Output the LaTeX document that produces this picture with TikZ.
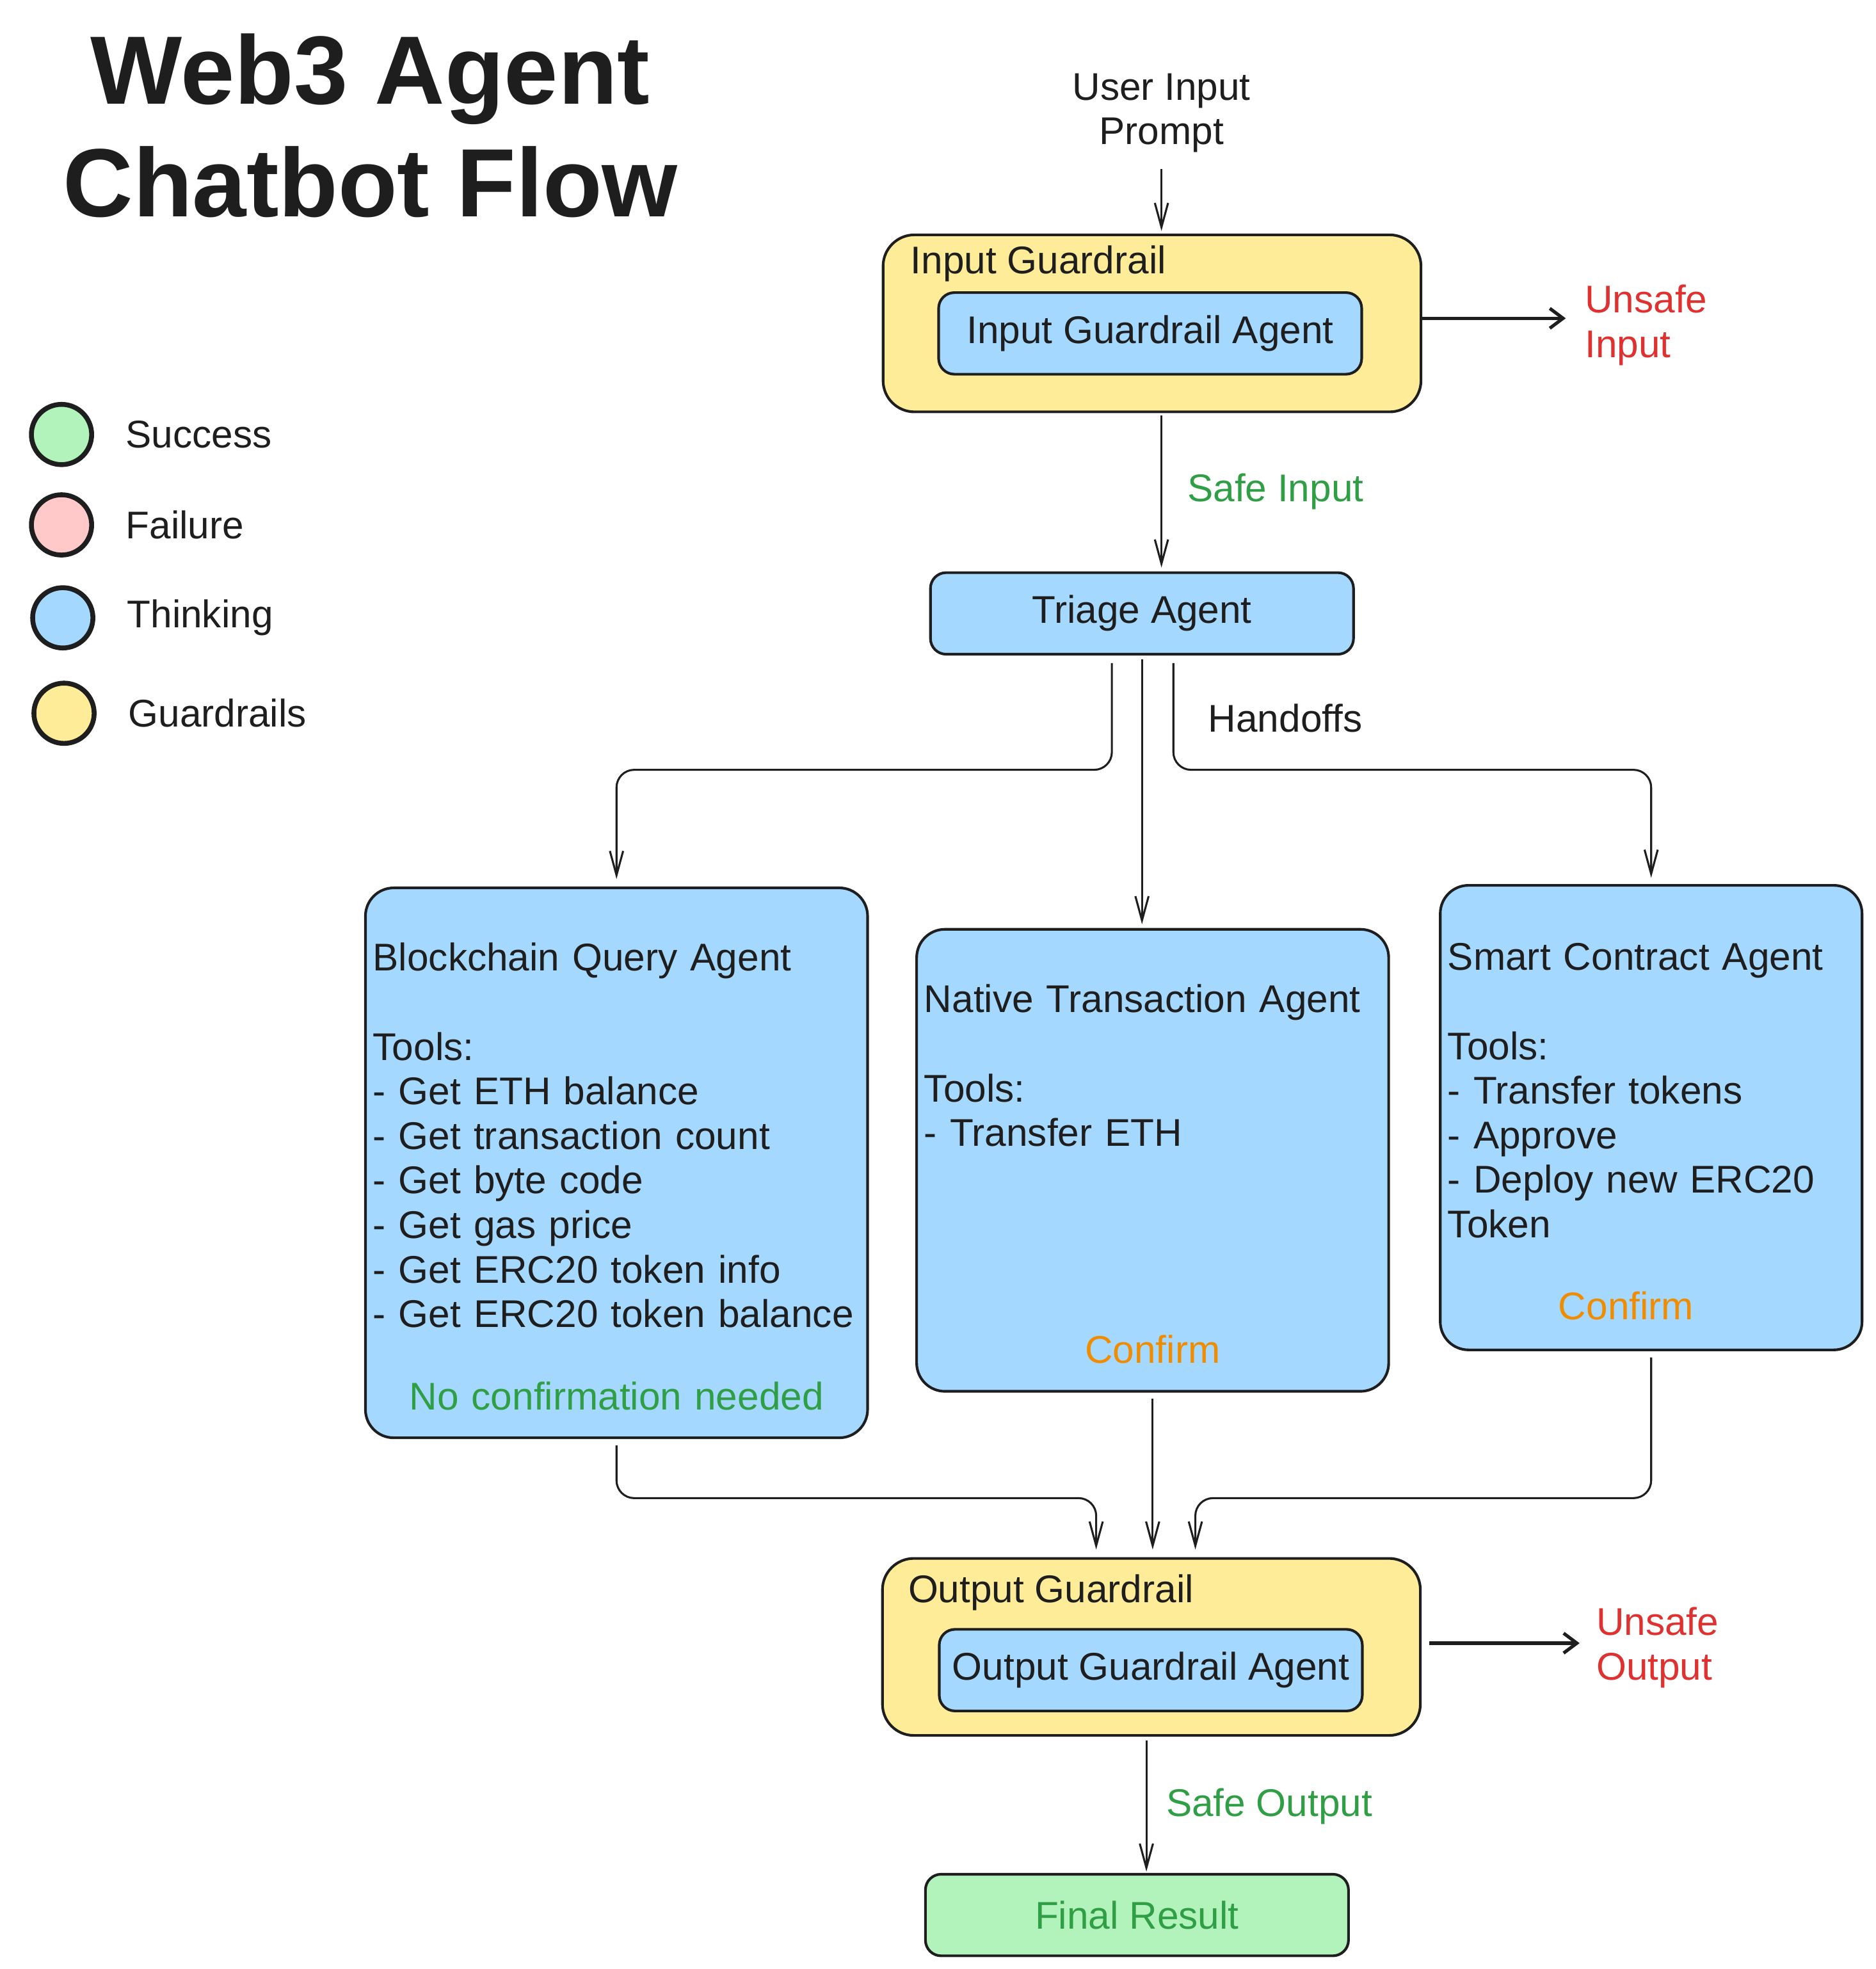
\documentclass[tikz,border=0pt]{standalone}
\usepackage{fontspec}
\setmainfont{Liberation Sans}
\usetikzlibrary{positioning,arrows.meta}

\definecolor{inkline}{HTML}{1E1E1E}
\definecolor{guardfill}{HTML}{FFEC99}
\definecolor{thinkfill}{HTML}{A5D8FF}
\definecolor{okfill}{HTML}{B2F2BB}
\definecolor{failfill}{HTML}{FFC9C9}
\definecolor{oktext}{HTML}{2F9E44}
\definecolor{badtext}{HTML}{E03131}
\definecolor{asktext}{HTML}{F08C00}

\tikzset{
  txt/.style={font=\fontsize{17.5}{20.2}\selectfont, text=inkline},
  guardbox/.style={draw=inkline, line width=1.2pt, fill=guardfill, rounded corners=0.5cm,
    minimum width=8.57cm, minimum height=2.82cm},
  agentbox/.style={txt, draw=inkline, line width=1.2pt, fill=thinkfill, rounded corners=0.25cm,
    minimum width=6.74cm, minimum height=1.3cm},
  toolbox/.style={txt, draw=inkline, line width=1.2pt, fill=thinkfill, rounded corners=0.45cm,
    align=left, inner xsep=0.12cm, inner ysep=0pt, text height=0.88cm},
  legdot/.style={circle, draw=inkline, line width=2.2pt, minimum size=0.96cm, inner sep=0pt},
  flow/.style={draw=inkline, line width=0.9pt, rounded corners=8pt,
    -{Straight Barb[length=11pt,width=6pt]}},
  reject/.style={draw=inkline, line width=1.5pt, -{Straight Barb[length=6pt,width=9pt]}},
}

\begin{document}
\begin{tikzpicture}[x=0.02cm, y=-0.02cm]
  \useasboundingbox (0,0) rectangle (1494,1568);

  % title
  \node[font=\fontsize{44}{51}\selectfont\bfseries, text=inkline, align=center] (title)
    at (295,100) {Web3 Agent\\Chatbot Flow};

  % legend
  \node[legdot, fill=okfill] (okdot) at (49,346) {};
  \node[legdot, fill=failfill] (faildot) at (49,418) {};
  \node[legdot, fill=thinkfill] (thinkdot) at (50,492) {};
  \node[legdot, fill=guardfill] (guarddot) at (51,568) {};
  \node[txt, inner sep=0pt, right=0.5cm of okdot] (oklabel) {Success};
  \node[txt, inner sep=0pt, right=0.5cm of faildot] (faillabel) {Failure};
  \node[txt, inner sep=0pt, right=0.5cm of thinkdot] (thinklabel) {Thinking};
  \node[txt, inner sep=0pt, right=0.5cm of guarddot] (guardlabel) {Guardrails};

  % input side
  \node[txt, align=center] (prompt) at (925,90) {User Input\\Prompt};
  \node[guardbox] (guardin) at (917.5,257.5) {};
  \node[txt, anchor=west, inner sep=0pt] (guardintitle) at (725,210) {Input Guardrail};
  \node[agentbox] (guardinagent) at (916,265.5) {Input Guardrail Agent};
  \node[txt, text=badtext, align=left, anchor=west, inner sep=0pt] (badin) at (1262,259) {Unsafe\\Input};

  \node[agentbox] (triage) at (909.5,488.5) {Triage Agent};
  \node[txt, anchor=west, inner sep=0pt] (handoffs) at (962,572) {Handoffs};

  % agents
  \node[toolbox, text width=7.76cm, minimum height=8.76cm] (query) at (491,926) {%
    Blockchain Query Agent\\[20.2pt]
    Tools:\\
    - Get ETH balance\\
    - Get transaction count\\
    - Get byte code\\
    - Get gas price\\
    - Get ERC20 token info\\
    - Get ERC20 token balance\\[17pt]
    \makebox[\linewidth]{\color{oktext}No confirmation needed}};
  \node[toolbox, text width=7.28cm, minimum height=7.36cm] (native) at (918,924) {%
    Native Transaction Agent\\[20.2pt]
    Tools:\\
    - Transfer ETH\\[78pt]
    \makebox[\linewidth]{\color{asktext}Confirm}};
  \node[toolbox, text width=6.48cm, minimum height=7.4cm] (contract) at (1315,890) {%
    Smart Contract Agent\\[20.2pt]
    Tools:\\
    - Transfer tokens\\
    - Approve\\
    - Deploy new ERC20\\
    Token\\[17pt]
    \makebox[\linewidth]{\hspace*{-0.8cm}\color{asktext}Confirm}};

  % output side
  \node[guardbox] (guardout) at (917,1311.5) {};
  \node[txt, anchor=west, inner sep=0pt] (guardouttitle) at (723,1268) {Output Guardrail};
  \node[agentbox] (guardoutagent) at (916.5,1330) {Output Guardrail Agent};
  \node[txt, text=badtext, align=left, anchor=west, inner sep=0pt] (badout) at (1271,1312) {Unsafe\\Output};
  \node[agentbox, fill=okfill, text=oktext] (final) at (905.5,1525) {Final Result};

  % connectors
  \draw[flow] ([yshift=-0.14cm]prompt.south) -- ([yshift=0.04cm]prompt.south |- guardin.north);
  \draw[reject] ([yshift=0.08cm]guardin.east) -- ([xshift=-0.3cm,yshift=0.08cm]guardin.east -| badin.west);
  \draw[flow] ([xshift=0.15cm,yshift=-0.04cm]guardin.south)
    -- node[midway, right=0.4cm, txt, text=oktext, inner sep=0pt] (safein) {Safe Input}
    ([xshift=0.15cm,yshift=0.06cm]guardin.south |- triage.north);

  \draw[flow] ([xshift=-0.48cm,yshift=-0.12cm]triage.south) -- ++(0,-1.7cm)
    -| ([yshift=0.12cm]query.north);
  \draw[flow] ([yshift=-0.06cm]triage.south) -- ([yshift=0.06cm]triage.south |- native.north);
  \draw[flow] ([xshift=0.5cm,yshift=-0.12cm]triage.south) -- ++(0,-1.7cm)
    -| ([yshift=0.1cm]contract.north);

  \draw[flow] ([yshift=-0.1cm]query.south) -- ++(0,-0.84cm)
    -| ([xshift=-0.88cm,yshift=0.12cm]guardout.north);
  \draw[flow] ([yshift=-0.1cm]native.south) -- ([yshift=0.12cm]native.south |- guardout.north);
  \draw[flow] ([yshift=-0.1cm]contract.south) -- ++(0,-2.24cm)
    -| ([xshift=0.7cm,yshift=0.12cm]guardout.north);

  \draw[reject] ([xshift=0.12cm,yshift=0.06cm]guardout.east) -- ([xshift=-0.26cm,yshift=0.06cm]guardout.east -| badout.west);
  \draw[flow] ([xshift=-0.08cm,yshift=-0.06cm]guardout.south)
    -- node[midway, right=0.3cm, txt, text=oktext, inner sep=0pt] (safeout) {Safe Output}
    ([xshift=-0.08cm,yshift=0.02cm]guardout.south |- final.north);
\end{tikzpicture}
\end{document}
